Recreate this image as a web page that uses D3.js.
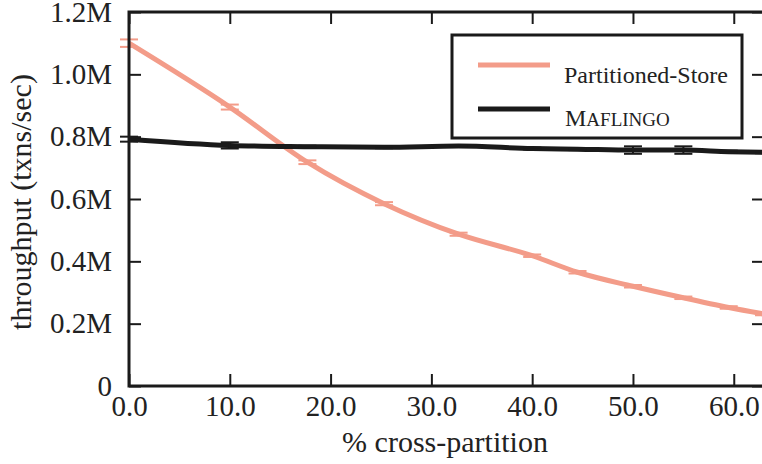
<!DOCTYPE html>
<html>
<head>
<meta charset="utf-8">
<script src="https://cdn.jsdelivr.net/npm/d3@7"></script>
<style>
  body { margin: 0; background: #fff; }
  svg text { font-family: "Liberation Serif", "Times New Roman", Times, "DejaVu Serif", "Noto Serif", serif; }
</style>
</head>
<body>
<div id="grafico"></div>
<script>
// Dados (x = % cross-partition, y = throughput em M txns/sec)
const crossPartition = [0, 10, 17.7, 25.3, 32.7, 40, 44.5, 50, 55, 59.5, 63];
const partitionedStore = [1.10, 0.895, 0.718, 0.585, 0.487, 0.418, 0.365, 0.32, 0.283, 0.252, 0.231];
const partitionedErr = [0.012, 0.008, 0.006, 0.005, 0.005, 0.004, 0.004, 0.004, 0.004, 0.004, 0.004];
const maflingo = [0.792, 0.772, 0.768, 0.766, 0.770, 0.762, 0.760, 0.757, 0.757, 0.752, 0.750];
const maflingoErr = [0.008, 0.010, 0.003, 0.003, 0.003, 0.003, 0.003, 0.012, 0.012, 0.003, 0.003];
const xTicks = [0, 10, 20, 30, 40, 50, 60];
const yTicks = [0, 0.2, 0.4, 0.6, 0.8, 1.0, 1.2];

const width = 762, height = 464;
const plot = { left: 129, right: 764, top: 12, bottom: 386 };
const rosa = "#f39c89";

const svg = d3.select("#grafico")
  .append("svg")
  .attr("width", width)
  .attr("height", height)
  .style("display", "block");

const x = d3.scaleLinear().domain([0, 63]).range([plot.left, plot.right]);
const y = d3.scaleLinear().domain([0, 1.2]).range([plot.bottom, plot.top]);

// Linhas das séries
const line = d3.line()
  .x(d => x(d.x))
  .y(d => y(d.y))
  .curve(d3.curveMonotoneX);

const series = [
  { nome: "Partitioned-Store", valores: partitionedStore, erros: partitionedErr, cor: rosa },
  { nome: "Maflingo", valores: maflingo, erros: maflingoErr, cor: "#1a1a1a" }
];

series.forEach(s => {
  const pontos = crossPartition.map((cx, i) => ({ x: cx, y: s.valores[i], e: s.erros[i] }));

  svg.append("path")
    .datum(pontos)
    .attr("fill", "none")
    .attr("stroke", s.cor)
    .attr("stroke-width", 5)
    .attr("d", line);

  // barras de erro
  const eb = svg.append("g").attr("stroke", s.cor).attr("stroke-width", 2);
  pontos.forEach(p => {
    eb.append("line")
      .attr("x1", x(p.x)).attr("x2", x(p.x))
      .attr("y1", y(p.y - p.e)).attr("y2", y(p.y + p.e));
    [p.y - p.e, p.y + p.e].forEach(v => {
      eb.append("line")
        .attr("x1", x(p.x) - 9).attr("x2", x(p.x) + 9)
        .attr("y1", y(v)).attr("y2", y(v));
    });
  });
});

// Moldura do gráfico
svg.append("rect")
  .attr("x", plot.left).attr("y", plot.top)
  .attr("width", plot.right - plot.left).attr("height", plot.bottom - plot.top)
  .attr("fill", "none")
  .attr("stroke", "#1a1a1a")
  .attr("stroke-width", 3);

// Eixos com ticks para dentro
const axisBottom = svg.append("g")
  .attr("transform", `translate(0,${plot.bottom})`)
  .call(d3.axisBottom(x).tickValues(xTicks).tickSize(-12).tickPadding(20).tickFormat(d3.format(".1f")));

const axisTop = svg.append("g")
  .attr("transform", `translate(0,${plot.top})`)
  .call(d3.axisTop(x).tickValues(xTicks).tickSize(-12).tickFormat(""));

const axisLeft = svg.append("g")
  .attr("transform", `translate(${plot.left},0)`)
  .call(d3.axisLeft(y).tickValues(yTicks).tickSize(-12).tickPadding(17)
    .tickFormat(d => d === 0 ? "0" : d.toFixed(1) + "M"));

const axisRight = svg.append("g")
  .attr("transform", `translate(${plot.right},0)`)
  .call(d3.axisRight(y).tickValues(yTicks).tickSize(-12).tickFormat(""));

[axisBottom, axisTop, axisLeft, axisRight].forEach(g => {
  g.attr("font-family", null);
  g.select(".domain").remove();
  g.selectAll(".tick line").attr("stroke", "#1a1a1a").attr("stroke-width", 2);
  g.selectAll(".tick text")
    .attr("fill", "#222")
    .attr("font-size", 29);
});

axisBottom.selectAll(".tick text").attr("dy", "0.35em");

// Títulos dos eixos
svg.append("text")
  .attr("x", 445).attr("y", 452)
  .attr("text-anchor", "middle")
  .attr("font-size", 30)
  .attr("fill", "#222")
  .text("% cross-partition");

svg.append("text")
  .attr("transform", "translate(31,202) rotate(-90)")
  .attr("text-anchor", "middle")
  .attr("font-size", 30)
  .attr("fill", "#222")
  .text("throughput (txns/sec)");

// Legenda
const legenda = svg.append("g");
legenda.append("rect")
  .attr("x", 452).attr("y", 35)
  .attr("width", 290).attr("height", 103)
  .attr("fill", "#fff")
  .attr("stroke", "#1a1a1a")
  .attr("stroke-width", 3);

legenda.append("line")
  .attr("x1", 478).attr("x2", 550).attr("y1", 65).attr("y2", 65)
  .attr("stroke", rosa).attr("stroke-width", 5);
legenda.append("text")
  .attr("x", 564).attr("y", 83)
  .attr("font-size", 24).attr("fill", "#222")
  .text("Partitioned-Store");

legenda.append("line")
  .attr("x1", 478).attr("x2", 550).attr("y1", 109).attr("y2", 109)
  .attr("stroke", "#1a1a1a").attr("stroke-width", 5);
const mf = legenda.append("text")
  .attr("x", 565).attr("y", 126)
  .attr("fill", "#222");
mf.append("tspan").attr("font-size", 24).text("M");
mf.append("tspan").attr("font-size", 19).text("AFLINGO");
</script>
</body>
</html>
